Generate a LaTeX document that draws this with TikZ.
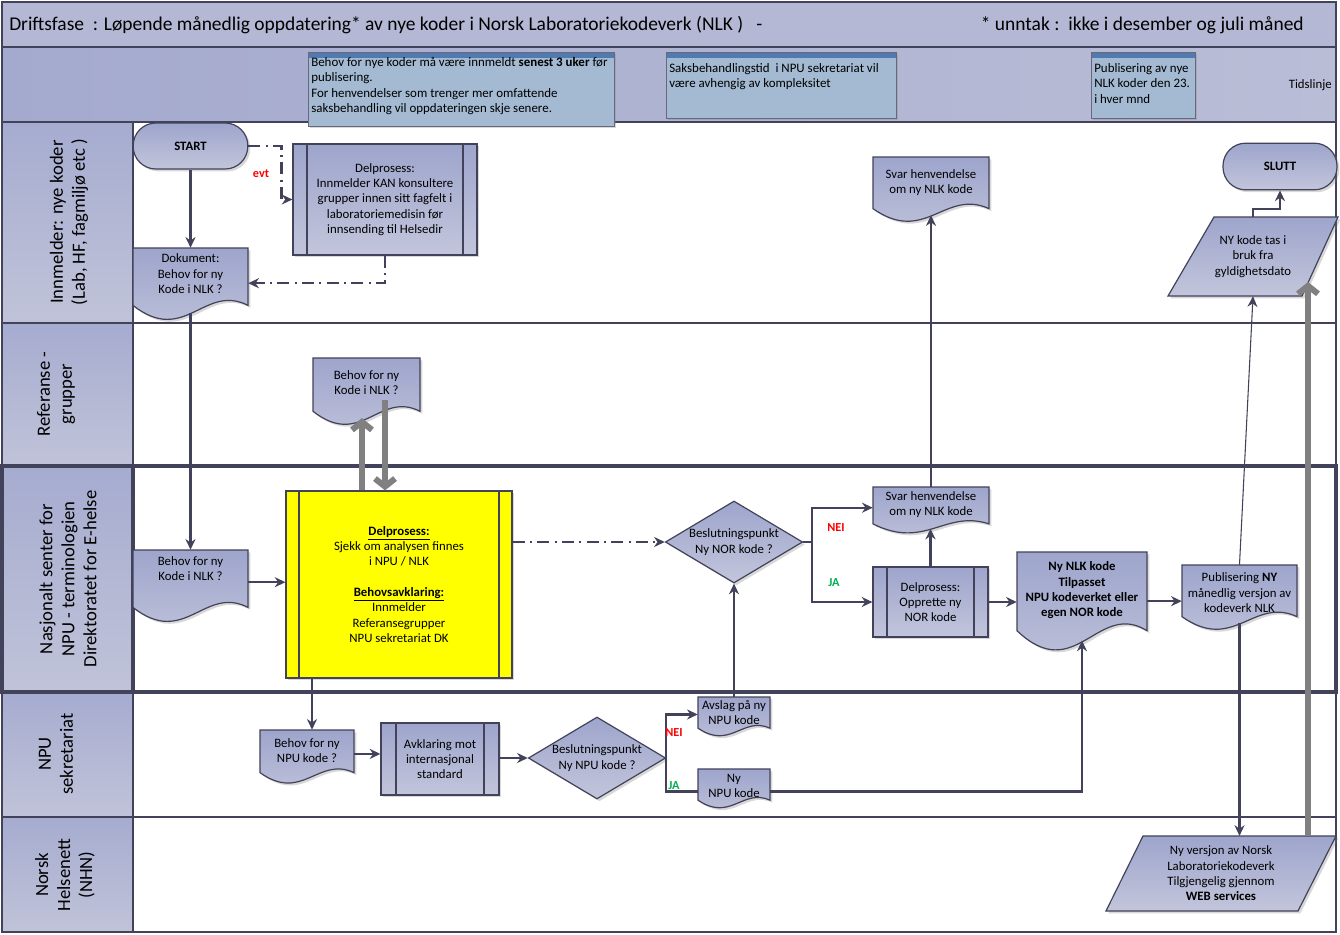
\documentclass[tikz,border=0pt]{standalone}
\usepackage{fontspec}
\setmainfont{Carlito}
\usetikzlibrary{arrows.meta,calc,shadows,shapes.geometric}
\definecolor{nfA}{RGB}{158,165,204}
\definecolor{nfB}{RGB}{194,197,219}
\definecolor{lnc}{RGB}{66,66,90}
\definecolor{laneA}{RGB}{166,172,208}
\definecolor{laneB}{RGB}{192,195,216}
\definecolor{hdr}{RGB}{180,184,212}
\definecolor{tlL}{RGB}{164,170,206}
\definecolor{tlR}{RGB}{186,189,214}
\definecolor{tlA}{RGB}{163,186,210}
\definecolor{tlS}{RGB}{80,122,176}
\definecolor{ygreen}{RGB}{0,176,80}
\definecolor{grayar}{RGB}{128,128,128}
\definecolor{yel}{RGB}{255,255,0}

\tikzset{
 nshape/.style={draw=lnc, line width=0.9pt, top color=nfA, bottom color=nfB,
   drop shadow={shadow xshift=1.8pt, shadow yshift=-1.8pt, opacity=0.3}},
 ntext/.style={align=center, inner sep=0pt, font=\fontsize{9.6}{11.5}\selectfont},
 conn/.style={draw=lnc, line width=1.6pt, -{Stealth[length=8pt,width=7.5pt]}},
 ddash/.style={conn, dash pattern=on 9pt off 4pt on 1.5pt off 4pt},
 plainc/.style={draw=lnc, line width=1.6pt},
 gthick/.style={draw=grayar, line width=4.5pt, -{Straight Barb[length=6pt,width=15pt]}},
 lanelab/.style={rotate=90, align=center, font=\fontsize{14}{16.5}\selectfont},
 lanecell/.style={draw=lnc, line width=0.8pt, top color=laneA, bottom color=laneB},
 tlbox/.style={draw=lnc!80, line width=0.6pt, fill=tlA,
   drop shadow={shadow xshift=1.5pt, shadow yshift=-1.5pt, opacity=0.3}},
 tltext/.style={anchor=north west, align=left, inner sep=0pt, font=\fontsize{9.7}{11.6}\selectfont},
 lbl/.style={font=\fontsize{9.2}{10}\selectfont\bfseries, inner sep=0pt},
}

% document shape: [text fraction] name, x1, y1, x2, y2, text
\newcommand\docnode[7][0.4]{%
  \path[nshape] (#3,#4) -- (#5,#4) -- ({#5},{#6-0.18*(#6-#4)})
    .. controls ({#3+0.62*(#5-#3)},{#6-0.5*(#6-#4)}) and ({#3+0.45*(#5-#3)},{#6+0.4*(#6-#4)})
    .. ({#3},{#6-0.18*(#6-#4)}) -- cycle;
  \node[inner sep=0pt, minimum width={(#5-#3)*0.75pt}, minimum height={0.92*(#6-#4)*0.75pt}]
    (#2) at ({(#3+#5)/2},{#4+0.46*(#6-#4)}) {};
  \node[ntext] (#2-t) at ({(#3+#5)/2},{#4+#1*(#6-#4)}) {#7};
}
% predefined process: [style] name, x1, y1, x2, y2, inset, text
\newcommand\procnode[8][]{%
  \node[nshape, ntext, minimum width={(#5-#3)*0.75pt}, minimum height={(#6-#4)*0.75pt}, #1]
    (#2) at ({(#3+#5)/2},{(#4+#6)/2}) {#8};
  \draw[draw=lnc, line width=0.9pt] ({#3+#7},#4) -- ({#3+#7},#6) ({#5-#7},#4) -- ({#5-#7},#6);
}
% timeline box: name, x1, y1, x2, y2, text top, text
\newcommand\tlnode[7]{%
  \path[tlbox] (#2,#3) rectangle (#4,#5);
  \path[fill=tlS] (#2,#3) rectangle (#4,{#3+6});
  \draw[draw=lnc!80, line width=0.6pt] (#2,#3) rectangle (#4,#5);
  \node[tltext] (#1) at ({#2+3},#6) {#7};
}

\begin{document}
\begin{tikzpicture}[x=0.75pt,y=-0.75pt]
\useasboundingbox (0,0) rectangle (1340,935);
\fill[white] (0,0) rectangle (1340,935);

% header rows
\path[fill=hdr, draw=lnc, line width=0.8pt] (2,2) rectangle (1336,47);
\path[left color=tlL, right color=tlR, draw=lnc, line width=0.8pt] (2,47) rectangle (1336,122);
\node[anchor=west, inner sep=0pt, font=\fontsize{14.6}{16}\selectfont] (title) at (9,25)
  {Driftsfase\ \ : Løpende månedlig oppdatering* av nye koder i Norsk Laboratoriekodeverk (NLK )\ \ \ -};
\node[anchor=east, inner sep=0pt, font=\fontsize{14.6}{16}\selectfont] (unntak) at (1304,25)
  {* unntak :\ \ ikke i desember og juli måned};
\node[anchor=east, inner sep=0pt, font=\fontsize{9.6}{10}\selectfont] (tids) at (1332,85) {Tidslinje};

% lanes
\draw[lnc, line width=0.8pt] (2,122) rectangle (1336,932);
\draw[lnc, line width=0.8pt] (2,323) -- (1336,323) (2,817) -- (1336,817);
\path[lanecell] (2,122) rectangle (133,323);
\path[lanecell] (2,323) rectangle (133,466);
\path[lanecell] (2,466) rectangle (133,692);
\path[lanecell] (2,692) rectangle (133,817);
\path[lanecell] (2,817) rectangle (133,932);
\draw[lnc, line width=2.4pt] (2,466) rectangle (1336,692);
\draw[lnc, line width=2.4pt] (133,466) -- (133,692);

\node[lanelab] (lane1) at (69,222) {Innmelder: nye koder\\(Lab, HF, fagmiljø etc )};
\node[lanelab] (lane2) at (56,394) {Referanse -\\grupper};
\node[lanelab] (lane3) at (68,579) {Nasjonalt senter for\\NPU - terminologien\\Direktoratet for E-helse};
\node[lanelab] (lane4) at (56,754) {NPU\\sekretariat};
\node[lanelab] (lane5) at (65,875) {Norsk\\Helsenett\\(NHN)};

% timeline boxes
\tlnode{tl1}{308}{52}{614}{126}{57}{Behov for nye koder må være innmeldt \textbf{senest 3 uker} før\\publisering.\\For henvendelser som trenger mer omfattende\\saksbehandling vil oppdateringen skje senere.}
\tlnode{tl2}{666}{52}{896}{118}{63}{Saksbehandlingstid\ \ i NPU sekretariat vil\\være avhengig av kompleksitet}
\tlnode{tl3}{1091}{52}{1195}{118}{63}{Publisering av nye\\NLK koder den 23.\\i hver mnd}

% shapes
\node[nshape, ntext, rounded corners=17pt, minimum width=86pt, minimum height=34.5pt, font=\fontsize{9.6}{11.5}\selectfont\bfseries] (start) at (190.5,146) {START};
\node[nshape, ntext, rounded corners=17pt, minimum width=85.5pt, minimum height=35pt, font=\fontsize{9.6}{11.5}\selectfont\bfseries] (slutt) at (1280,166.5) {SLUTT};

\procnode{delp1}{293}{144}{477}{255}{14}{Delprosess:\\Innmelder KAN konsultere\\grupper innen sitt fagfelt i\\laboratoriemedisin før\\innsending til Helsedir}
\procnode[top color=yel, bottom color=yel]{yel}{286}{491}{512}{678}{13}{\textbf{\underline{Delprosess:}}\\Sjekk om analysen finnes\\i NPU / NLK\\[11.5pt]\textbf{\underline{Behovsavklaring:}}\\Innmelder\\Referansegrupper\\NPU sekretariat DK}
\procnode{avk}{381}{723}{499}{795}{15}{Avklaring mot\\internasjonal\\standard}
\procnode{opp}{873}{567}{988}{637}{14}{Delprosess:\\Opprette ny\\NOR kode}

\docnode[0.37]{dok1}{133}{248}{248}{318}{Dokument:\\Behov for ny\\Kode i NLK ?}
\docnode[0.375]{ref}{313}{358}{420}{423}{Behov for ny\\Kode i NLK ?}
\docnode[0.27]{behovNLK}{133}{550}{248}{620}{Behov for ny\\Kode i NLK ?}
\docnode[0.4]{behovNPU}{260}{730}{354}{782}{Behov for ny\\NPU kode ?}
\docnode[0.4]{avslag}{698}{697}{770}{735}{Avslag på ny\\NPU kode}
\docnode[0.45]{nynpu}{698}{769}{770}{807}{Ny\\NPU kode}
\docnode[0.41]{svar1}{873}{157}{989}{220}{Svar henvendelse\\om ny NLK kode}
\docnode[0.39]{svar2}{873}{487}{989}{532}{Svar henvendelse\\om ny NLK kode}
\docnode[0.40]{nynlk}{1017}{552}{1147}{648}{\textbf{Ny NLK kode}\\\textbf{Tilpasset}\\\textbf{NPU kodeverket eller}\\\textbf{egen NOR kode}}
\docnode[0.44]{pub}{1182}{565}{1297}{628}{Publisering \textbf{NY}\\månedlig versjon av\\kodeverk NLK}

\node[nshape, diamond, aspect=1.67, ntext, minimum width=103pt, minimum height=61.5pt] (dnor) at (734,542) {Beslutningspunkt\\Ny NOR kode ?};
\node[nshape, diamond, aspect=1.67, ntext, minimum width=103pt, minimum height=61.5pt] (dnpu) at (597,758) {Beslutningspunkt\\Ny NPU kode ?};

\path[nshape] (1214,217) -- (1338,217) -- (1302,296) -- (1168,296) -- cycle;
\node[ntext, minimum height=59.25pt, minimum width=60pt] (nykode) at (1253,256.5) {NY kode tas i\\bruk fra\\gyldighetsdato};
\path[nshape] (1143,836) -- (1336,836) -- (1298,911) -- (1106,911) -- cycle;
\node[ntext, minimum height=56pt, minimum width=90pt] (nyversjon) at (1221,873.5) {Ny versjon av Norsk\\Laboratoriekodeverk\\Tilgjengelig gjennom\\\textbf{WEB services}};

% connectors
\draw[conn] (start.south) -- (start.south |- dok1.north);
\draw[ddash] (start.east) -- ++(33,0) |- (delp1.west);
\draw[ddash] (delp1.south) |- ($(dok1.east)+(0,3)$);
\draw[conn] (dok1.south) -- (dok1.south |- behovNLK.north);
\draw[conn] (behovNLK.east) -- (behovNLK.east -| yel.west);
\coordinate (gu) at (362,0);
\coordinate (gd) at (385,400);
\draw[gthick] (yel.north -| gu) -- (ref.south -| gu);
\draw[gthick] (gd) -- (yel.north -| gd);
\coordinate (ys) at (312,0);
\draw[conn] (yel.south -| ys) -- (behovNPU.north -| ys);
\draw[conn] (behovNPU.east) -- (behovNPU.east -| avk.west);
\draw[conn] (avk.east |- dnpu.west) -- (dnpu.west);
\draw[conn] (dnpu.east) |- (avslag.west);
\coordinate (nynpuW) at ($(nynpu.west)+(0,5)$);
\coordinate (nynpuE) at ($(nynpu.east)+(0,5)$);
\draw[plainc] (dnpu.east) |- (nynpuW);
\draw[conn] (nynpuE) -| (nynlk.south);
\draw[conn] (avslag.north) -- (dnor.south);
\draw[ddash] (dnor.west -| yel.east) -- (dnor.west);
\draw[conn] (dnor.east) -- ++(9,0) |- (svar2.west);
\draw[conn] (dnor.east) -- ++(9,0) |- (opp.west);
\draw[conn] (opp.north) -- (opp.north |- svar2.south);
\draw[conn] (svar2.north) -- (svar2.north |- svar1.south);
\draw[conn] (opp.east) -- (opp.east -| nynlk.west);
\coordinate (nynlkE) at ($(nynlk.east)+(0,5)$);
\draw[conn] (nynlkE) -- (nynlkE -| pub.west);
\draw[conn, line width=0.8pt] (pub.north) -- (nykode.south);
\draw[conn] (nykode.north) -- ++(0,-8) -| (slutt.south);
\draw[conn] (pub.south) -- (pub.south |- nyversjon.north);
\coordinate (g1) at (1308,836);
\coordinate (g2) at (1308,282);
\draw[gthick] (g1) -- (g2);

% branch labels
\node[lbl, text=red] (evt) at (261,174) {evt};
\node[lbl, text=red] (nei1) at (836,528) {NEI};
\node[lbl, text=ygreen] (ja1) at (834,583) {JA};
\node[lbl, text=red] (nei2) at (674,733) {NEI};
\node[lbl, text=ygreen] (ja2) at (674,786) {JA};
\end{tikzpicture}
\end{document}
